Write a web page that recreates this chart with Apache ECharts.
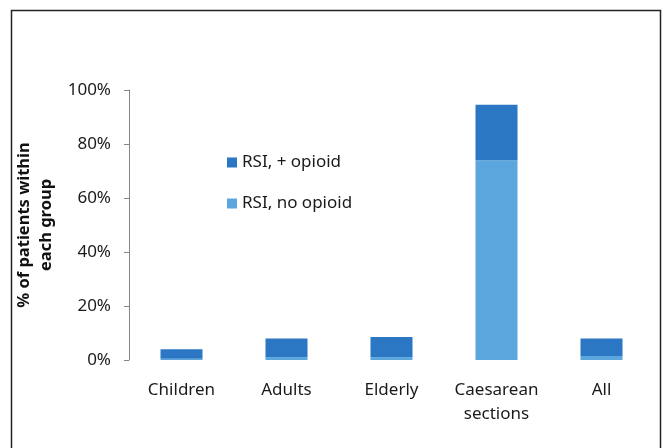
<!DOCTYPE html>
<html>
<head>
<meta charset="utf-8">
<script src="https://cdn.jsdelivr.net/npm/echarts@6/dist/echarts.min.js"></script>
<style>html,body{margin:0;padding:0;background:#fff}#c{width:667px;height:448px}</style>
</head>
<body>
<div id="c"></div>
<script>
var categories = ['Children', 'Adults', 'Elderly', 'Caesarean\nsections', 'All'];
var noOpioid = [0.5, 1, 1, 74, 1.5];
var plusOpioid = [3.5, 7, 7.5, 20.5, 6.5];
var yTicks = [0, 20, 40, 60, 80, 100];
var seriesNames = ['RSI, no opioid', 'RSI, + opioid'];

var chart = echarts.init(document.getElementById('c'), null, {renderer: 'canvas'});
var font = 'Noto Sans';
chart.setOption({
  animation: false,
  backgroundColor: '#fff',
  graphic: [{
    type: 'rect',
    shape: {x: 11.5, y: 10.5, width: 649, height: 460},
    style: {fill: 'none', stroke: '#222', lineWidth: 1.5},
    silent: true
  }],
  legend: {
    data: [seriesNames[1], seriesNames[0]],
    orient: 'vertical',
    left: 222,
    top: 149,
    itemWidth: 10,
    itemHeight: 10,
    itemGap: 24,
    icon: 'rect',
    textStyle: {fontFamily: font, fontSize: 17, color: '#1a1a1a'}
  },
  grid: {left: 129, right: 13, top: 90, bottom: 88},
  xAxis: {
    type: 'category',
    data: categories,
    axisLine: {show: false},
    axisTick: {show: false},
    axisLabel: {interval: 0, fontFamily: font, fontSize: 17, color: '#1a1a1a', margin: 18, lineHeight: 24}
  },
  yAxis: {
    type: 'value',
    min: yTicks[0],
    max: yTicks[yTicks.length - 1],
    interval: 20,
    name: '% of patients within\neach group',
    nameLocation: 'middle',
    nameRotate: 90,
    nameGap: 68,
    nameTextStyle: {fontFamily: font, fontSize: 16.5, fontWeight: 'bold', color: '#111', lineHeight: 22},
    axisLine: {show: true, lineStyle: {color: '#8c8484', width: 1}},
    axisTick: {show: true, length: 5, lineStyle: {color: '#8c8484'}},
    splitLine: {show: false},
    axisLabel: {fontFamily: font, fontSize: 17, color: '#1a1a1a', margin: 18, formatter: '{value}%'}
  },
  series: [{
    name: seriesNames[0],
    type: 'bar',
    stack: 'a',
    barWidth: '40%',
    data: noOpioid,
    itemStyle: {color: '#5ca6de'}
  }, {
    name: seriesNames[1],
    type: 'bar',
    stack: 'a',
    barWidth: '40%',
    data: plusOpioid,
    itemStyle: {color: '#2c77c4'}
  }]
});
</script>
</body>
</html>
